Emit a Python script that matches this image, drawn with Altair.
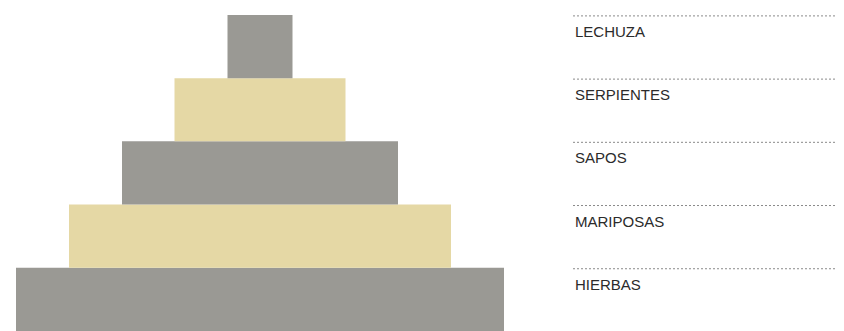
import altair as alt
import pandas as pd

categories = ["HIERBAS", "MARIPOSAS", "SAPOS", "SERPIENTES", "LECHUZA"]
widths = [488, 382, 276, 171, 65]
levels = [0, 1, 2, 3, 4]
colors = ["#9a9994", "#e5d8a5", "#9a9994", "#e5d8a5", "#9a9994"]

df = pd.DataFrame({"cat": categories, "w": widths, "level": levels, "color": colors})

xscale = alt.Scale(domain=[-252, 576], nice=False, zero=False)
yscale = alt.Scale(domain=[0, 5.11], nice=False, zero=False)

base = alt.Chart(df)

bars = base.transform_calculate(
    bx1="-datum.w/2", bx2="datum.w/2", by1="datum.level", by2="datum.level+1"
).mark_rect().encode(
    x=alt.X("bx1:Q", scale=xscale, axis=None),
    x2="bx2:Q",
    y=alt.Y("by1:Q", scale=yscale, axis=None),
    y2="by2:Q",
    color=alt.Color("color:N", scale=None),
)

rules = base.transform_calculate(
    rx1="313", rx2="576", ry="datum.level+0.985"
).mark_rule(strokeDash=[2, 2], color="#8a8a8a", strokeWidth=1).encode(
    x=alt.X("rx1:Q", scale=xscale, axis=None),
    x2="rx2:Q",
    y=alt.Y("ry:Q", scale=yscale, axis=None),
)

labels = base.transform_calculate(
    tx="315", ty="datum.level+0.65"
).mark_text(
    align="left", baseline="alphabetic", font="Liberation Sans",
    fontSize=15, color="#2b2b2b"
).encode(
    x=alt.X("tx:Q", scale=xscale, axis=None),
    y=alt.Y("ty:Q", scale=yscale, axis=None),
    text="cat:N",
)

chart = alt.layer(bars, rules, labels).properties(
    width=828, height=323, padding=0,
    autosize=alt.AutoSizeParams(type="none"),
).configure_view(stroke=None)

chart.save("out.html", embed_options={"renderer": "svg", "actions": False})
